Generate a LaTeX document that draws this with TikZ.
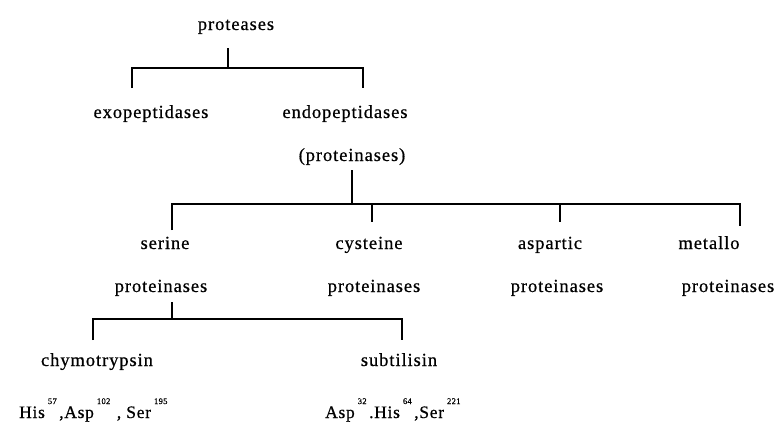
\documentclass[tikz,border=0pt]{standalone}
\usepackage{fontspec}
\setmainfont{Liberation Serif}[LetterSpace=5,FakeBold=0.6]
\newfontfamily\rowfont{Liberation Serif}[LetterSpace=4,FakeBold=0.6]
\newcommand{\supn}[1]{\hspace{3pt}\raisebox{14pt}{\fontsize{8.5}{9}\selectfont #1}\hspace{2.5pt}}
\begin{document}
\begin{tikzpicture}[x=1pt,y=-1pt,
  lbl/.style={inner sep=0pt,anchor=base,font=\fontsize{18.5}{20}\selectfont},
  rowlbl/.style={inner sep=0pt,anchor=base west,font=\rowfont\fontsize{17.5}{20}\selectfont},
  br/.style={line width=2.2pt}]
\useasboundingbox (0,0) rectangle (776,424);
\node[lbl] (prot) at (236,30) {proteases};
\node[lbl] (exo) at (151,118) {exopeptidases};
\node[lbl] (endo) at (345,118) {endopeptidases};
\node[lbl] (pin) at (352,161) {(proteinases)};
\node[lbl] (ser) at (165,249) {serine};
\node[lbl] (cys) at (369,249) {cysteine};
\node[lbl] (asp) at (550,249) {aspartic};
\node[lbl] (met) at (709,249) {metallo};
\node[lbl] (serp) at (161,292) {proteinases};
\node[lbl] (cysp) at (374,292) {proteinases};
\node[lbl] (aspp) at (557,292) {proteinases};
\node[lbl] (metp) at (728,292) {proteinases};
\node[lbl] (chy) at (97,366) {chymotrypsin};
\node[lbl] (sub) at (399,366) {subtilisin};
\node[rowlbl] (chyr) at (19,418) {His\supn{57},Asp\supn{102}\hspace{4pt}, Ser\supn{195}};
\node[rowlbl] (subr) at (325,418) {Asp\supn{32}.His\supn{64},Ser\supn{221}};
% bracket 1
\coordinate (j1) at (228,68);
\draw[br] (228,48) -- (j1);
\draw[br] (132,88) -- (132,68) -- (363,68) -- (363,88);
% bracket 2
\coordinate (j2) at (352,204);
\draw[br] (352,170) -- (j2);
\draw[br] (172,230) -- (172,204) -- (740,204) -- (740,226);
\draw[br] (372,204) -- (372,222);
\draw[br] (560,204) -- (560,222);
% bracket 3
\coordinate (j3) at (172,319);
\draw[br] (172,302) -- (j3);
\draw[br] (93,340) -- (93,319) -- (402,319) -- (402,340);
\end{tikzpicture}
\end{document}
